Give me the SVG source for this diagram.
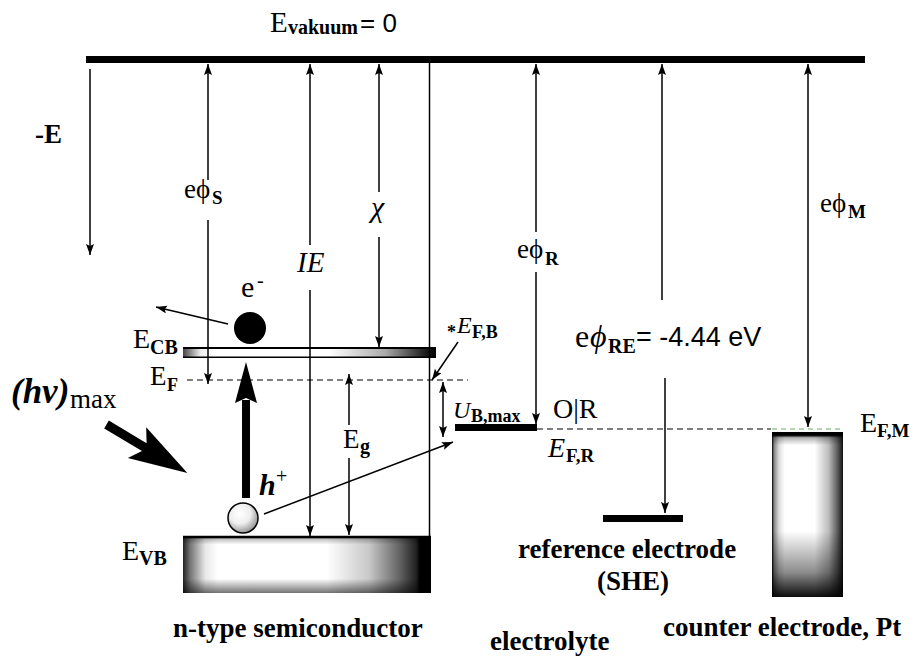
<svg xmlns="http://www.w3.org/2000/svg" width="917" height="657" viewBox="0 0 917 657" font-family="'Liberation Serif','Times New Roman',serif">
<style>
text,tspan{font-family:"Liberation Serif","Times New Roman",serif;fill:#000}
.lbl{font-size:27px;font-weight:bold}
tspan.sans,text.sans{font-family:"Liberation Sans",Arial,sans-serif}
.sub{font-weight:bold;font-size:19px}
.ln{stroke:#000;stroke-width:1.5;fill:none}
.arr{stroke:#000;stroke-width:1.5;fill:none;marker-end:url(#ah)}
.darr{stroke:#000;stroke-width:1.5;fill:none;marker-end:url(#ah);marker-start:url(#ah)}
.dash{stroke:#000;stroke-width:1.2;stroke-dasharray:6 4;fill:none}
</style>
<defs>
<marker id="ah" markerUnits="userSpaceOnUse" markerWidth="12" markerHeight="9" refX="11" refY="4" orient="auto-start-reverse">
<path d="M0,0 L11,4 L0,8 L2,4 z" fill="#000"/>
</marker>
<linearGradient id="gCB" x1="0" y1="0" x2="1" y2="0">
<stop offset="0" stop-color="#444"/>
<stop offset="0.07" stop-color="#eee"/>
<stop offset="0.12" stop-color="#fff"/>
<stop offset="0.58" stop-color="#fff"/>
<stop offset="0.8" stop-color="#aaa"/>
<stop offset="0.95" stop-color="#222"/>
<stop offset="1" stop-color="#000"/>
</linearGradient>
<linearGradient id="gVBh" x1="0" y1="0" x2="1" y2="0">
<stop offset="0" stop-color="#222"/>
<stop offset="0.03" stop-color="#777"/>
<stop offset="0.09" stop-color="#e8e8e8"/>
<stop offset="0.14" stop-color="#fff"/>
<stop offset="0.58" stop-color="#fff"/>
<stop offset="0.75" stop-color="#c8c8c8"/>
<stop offset="0.87" stop-color="#666"/>
<stop offset="0.94" stop-color="#222"/>
<stop offset="0.955" stop-color="#000"/>
<stop offset="1" stop-color="#000"/>
</linearGradient>
<linearGradient id="gVBv" x1="0" y1="0" x2="0" y2="1">
<stop offset="0" stop-color="#000" stop-opacity="0.9"/>
<stop offset="0.05" stop-color="#000" stop-opacity="0.25"/>
<stop offset="0.15" stop-color="#000" stop-opacity="0"/>
<stop offset="0.75" stop-color="#000" stop-opacity="0"/>
<stop offset="1" stop-color="#000" stop-opacity="0.55"/>
</linearGradient>
<linearGradient id="gCEh" x1="0" y1="0" x2="1" y2="0">
<stop offset="0" stop-color="#000"/>
<stop offset="0.03" stop-color="#888"/>
<stop offset="0.1" stop-color="#ddd"/>
<stop offset="0.18" stop-color="#fff"/>
<stop offset="0.6" stop-color="#fff"/>
<stop offset="0.8" stop-color="#bbb"/>
<stop offset="0.93" stop-color="#555"/>
<stop offset="1" stop-color="#111"/>
</linearGradient>
<linearGradient id="gCEv" x1="0" y1="0" x2="0" y2="1">
<stop offset="0" stop-color="#000" stop-opacity="1"/>
<stop offset="0.02" stop-color="#000" stop-opacity="1"/>
<stop offset="0.035" stop-color="#000" stop-opacity="0.3"/>
<stop offset="0.08" stop-color="#000" stop-opacity="0"/>
<stop offset="0.6" stop-color="#000" stop-opacity="0"/>
<stop offset="0.85" stop-color="#000" stop-opacity="0.45"/>
<stop offset="1" stop-color="#000" stop-opacity="0.95"/>
</linearGradient>
<radialGradient id="gHole" cx="0.4" cy="0.35" r="0.7">
<stop offset="0" stop-color="#fff"/>
<stop offset="0.5" stop-color="#eee"/>
<stop offset="1" stop-color="#888"/>
</radialGradient>
</defs>

<g id="vacuum">
<rect x="86" y="56" width="779" height="7" fill="#000"/>
<text><tspan x="270" y="32" font-size="29">E</tspan><tspan x="288" y="34" font-size="20" font-weight="bold">vakuum</tspan><tspan x="360" y="32" class="sans" font-size="26">= 0</tspan></text>
</g>

<g id="axis-label">
<text x="35" y="143" font-size="27" font-weight="bold">-E</text>
</g>

<g id="semiconductor">
<rect x="183" y="347" width="253" height="11" fill="url(#gCB)"/>
<line x1="183" y1="348" x2="436" y2="348" stroke="#000" stroke-width="2.2"/>
<line x1="183" y1="357.2" x2="436" y2="357.2" stroke="#000" stroke-width="1.6"/>
<rect x="183" y="536" width="248" height="57" fill="url(#gVBh)"/>
<rect x="183" y="536" width="248" height="57" fill="url(#gVBv)"/>
<line x1="183" y1="537" x2="431" y2="537" stroke="#000" stroke-width="2.5"/>
<text><tspan x="133" y="348" font-size="28">E</tspan><tspan x="150" y="354" font-size="20" font-weight="bold">CB</tspan></text>
<text><tspan x="150" y="385" font-size="27">E</tspan><tspan x="167" y="391" font-size="18" font-weight="bold">F</tspan></text>
<text><tspan x="122" y="560" font-size="28">E</tspan><tspan x="139" y="565" font-size="20" font-weight="bold">VB</tspan></text>
<text class="lbl" x="173" y="637">n-type semiconductor</text>
</g>

<g id="electron">
<circle cx="250" cy="328" r="16" fill="#000"/>
<text><tspan x="241" y="297" font-size="30">e</tspan><tspan x="257" y="287" font-size="20">-</tspan></text>
</g>

<g id="hole">
<circle cx="243" cy="518" r="15" fill="url(#gHole)" stroke="#000" stroke-width="1.5"/>
<text><tspan x="259" y="495" font-size="30" font-weight="bold" font-style="italic">h</tspan><tspan x="276" y="483" font-size="20">+</tspan></text>
</g>

<g id="light">
<polygon points="108.8,420.6 146.6,443.2 146.2,427.3 187.4,472.9 127.8,458.1 142,451 104.2,428.4" fill="#000"/>
<text><tspan x="11" y="403" font-size="35" font-weight="bold" font-style="italic">(hv)</tspan><tspan x="70" y="408" font-size="27">max</tspan></text>
</g>

<g id="electrolyte">
<rect x="455" y="424" width="82" height="7" fill="#000"/>
<text x="553" y="418" font-size="28">O|R</text>
<text><tspan x="548" y="457" font-size="28" font-style="italic">E</tspan><tspan x="566" y="462" font-size="19" font-weight="bold">F,R</tspan></text>
<text class="lbl" x="490" y="650">electrolyte</text>
</g>

<g id="reference-electrode">
<rect x="603" y="515" width="80" height="7" fill="#000"/>
<text class="lbl" x="518" y="558">reference electrode</text>
<text class="lbl" x="597" y="590">(SHE)</text>
</g>

<g id="counter-electrode">
<rect x="772" y="432" width="71" height="165" fill="url(#gCEh)"/>
<rect x="772" y="432" width="71" height="165" fill="url(#gCEv)"/>
<line x1="772" y1="429" x2="843" y2="429" stroke="#9c9" stroke-width="1.5" stroke-dasharray="5 4"/>
<text><tspan x="860" y="432" font-size="28">E</tspan><tspan x="877" y="437" font-size="19" font-weight="bold">F,M</tspan></text>
<text class="lbl" x="663" y="636">counter electrode, Pt</text>
</g>

<g id="connectors">
<line class="arr" x1="90" y1="69" x2="90" y2="255"/>
<line class="arr" x1="208" y1="180" x2="208" y2="64"/>
<line class="arr" x1="208" y1="220" x2="208" y2="384"/>
<line class="arr" x1="310" y1="245" x2="310" y2="64"/>
<line class="arr" x1="310" y1="290" x2="310" y2="536"/>
<line class="arr" x1="379" y1="192" x2="379" y2="64"/>
<line class="arr" x1="379" y1="237" x2="379" y2="347"/>
<line class="ln" x1="429.5" y1="63" x2="429.5" y2="537"/>
<line class="arr" x1="536" y1="232" x2="536" y2="64"/>
<line class="arr" x1="536" y1="272" x2="536" y2="424"/>
<line class="arr" x1="662" y1="300" x2="662" y2="64"/>
<line class="arr" x1="665" y1="378" x2="665" y2="513"/>
<line class="darr" x1="808" y1="64" x2="808" y2="427"/>
<line class="arr" x1="228" y1="324" x2="156" y2="307"/>
<line class="dash" x1="187" y1="380" x2="468" y2="380"/>
<line class="dash" x1="537" y1="429" x2="771" y2="429"/>
<line class="arr" x1="458" y1="342" x2="432" y2="380"/>
<line class="darr" x1="443" y1="382" x2="443" y2="437"/>
<line class="arr" x1="349" y1="425" x2="349" y2="374"/>
<line class="arr" x1="349" y1="458" x2="349" y2="535"/>
<line class="arr" x1="264" y1="514" x2="453" y2="442"/>
<rect x="242" y="400" width="8" height="98" fill="#000"/>
<polygon points="246,362 257,403 246,398 235,403" fill="#000"/>
<text><tspan x="184" y="198" font-size="27">eϕ</tspan><tspan x="212" y="204" class="sub">S</tspan></text>
<text x="371" y="217" font-size="30" font-style="italic">χ</text>
<text x="297" y="272" font-size="29" font-style="italic">IE</text>
<text><tspan x="517" y="258" font-size="27">eϕ</tspan><tspan x="545" y="265" class="sub">R</tspan></text>
<text><tspan x="820" y="212" font-size="27">eϕ</tspan><tspan x="848" y="218" class="sub">M</tspan></text>
<text><tspan x="343" y="448" font-size="27">E</tspan><tspan x="360" y="453" font-size="20" font-weight="bold">g</tspan></text>
<text><tspan x="447" y="338" font-size="18" font-weight="bold">*</tspan><tspan x="457" y="333" font-size="24" font-style="italic">E</tspan><tspan x="472" y="338" font-size="18" font-weight="bold">F,B</tspan></text>
<text><tspan x="453" y="418" font-size="24" font-style="italic">U</tspan><tspan x="471" y="422" font-size="18" font-weight="bold">B,max</tspan></text>
<text><tspan x="575" y="347" font-size="32">e</tspan><tspan x="590" y="347" font-size="32" font-style="italic">ϕ</tspan><tspan x="608" y="353" font-size="20" font-weight="bold">RE</tspan><tspan x="636" y="346" class="sans" font-size="27">= -4.44 eV</tspan></text>
</g>
</svg>
